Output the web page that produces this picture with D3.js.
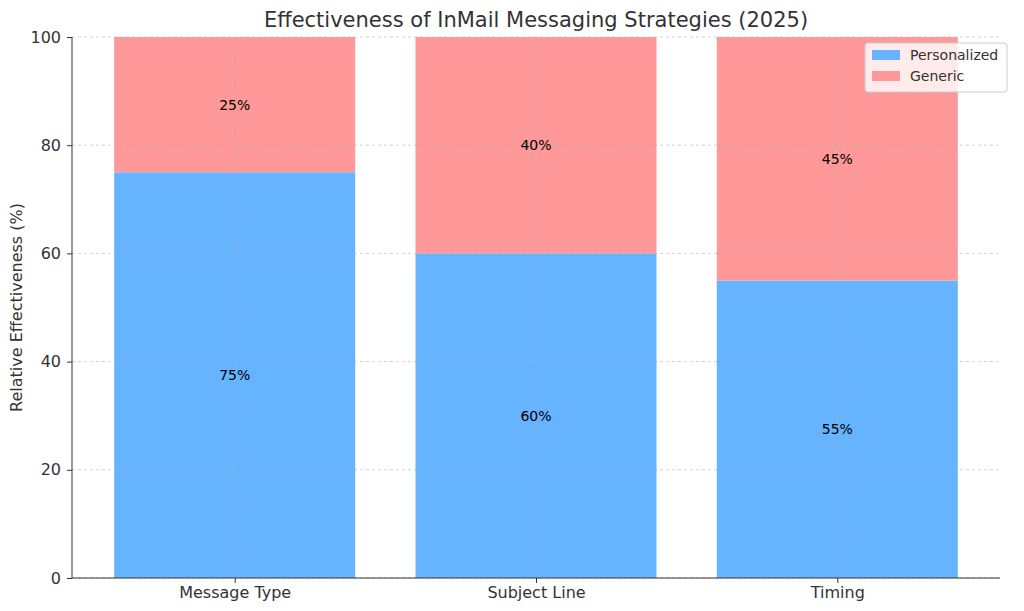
<!DOCTYPE html>
<html><head><meta charset="utf-8">
<script src="https://cdn.jsdelivr.net/npm/d3@7"></script>
<style>body{margin:0;background:#fff}text{font-family:"DejaVu Sans",sans-serif}</style>
</head><body>
<svg width="1024" height="611"></svg>
<script>
const categories = ['Message Type', 'Subject Line', 'Timing'];
const personalized = [75, 60, 55];
const generic = [25, 40, 45];
const yTicks = [0, 20, 40, 60, 80, 100];

const svg = d3.select('svg');
const plotLeft = 72, plotRight = 1000, plotTop = 37, plotBottom = 578;
const x = d3.scaleLinear().domain([-0.54, 2.54]).range([plotLeft, plotRight]);
const y = d3.scaleLinear().domain([0, 100]).range([plotBottom, plotTop]);
const bw = x(0.8) - x(0);

const data = categories.map((c, i) => ({c, i, p: personalized[i], g: generic[i]}));

const g = svg.append('g');
g.selectAll('rect.p').data(data).enter().append('rect')
  .attr('x', d => x(d.i) - bw / 2).attr('width', bw)
  .attr('y', d => y(d.p)).attr('height', d => y(0) - y(d.p))
  .attr('fill', '#66b3ff');
g.selectAll('rect.g').data(data).enter().append('rect')
  .attr('x', d => x(d.i) - bw / 2).attr('width', bw)
  .attr('y', d => y(d.p + d.g)).attr('height', d => y(d.p) - y(d.p + d.g))
  .attr('fill', '#ff9999');

// grid
const grid = svg.append('g').attr('stroke', '#b0b0b0').attr('stroke-width', 0.8)
  .attr('stroke-dasharray', '3,3').attr('opacity', 0.7);
yTicks.forEach(t => grid.append('line').attr('x1', plotLeft).attr('x2', plotRight).attr('y1', y(t)).attr('y2', y(t)));
data.forEach(d => grid.append('line').attr('x1', x(d.i)).attr('x2', x(d.i)).attr('y1', plotTop).attr('y2', plotBottom));

// value labels
data.forEach(d => {
  svg.append('text').attr('x', x(d.i)).attr('y', y(d.p / 2)).attr('text-anchor', 'middle')
    .attr('dy', '0.35em').attr('font-size', 14).text(d.p + '%');
  svg.append('text').attr('x', x(d.i)).attr('y', y(d.p + d.g / 2)).attr('text-anchor', 'middle')
    .attr('dy', '0.35em').attr('font-size', 14).text(d.g + '%');
});

// axes
const ya = svg.append('g').attr('transform', `translate(${plotLeft},0)`)
  .call(d3.axisLeft(y).tickValues(yTicks).tickSize(5).tickPadding(6));
ya.selectAll('text').attr('font-size', 16).attr('fill', '#333');
ya.select('.domain').attr('d', `M0,${plotTop}V${plotBottom}`);
const xa = svg.append('g').attr('transform', `translate(0,${plotBottom})`)
  .call(d3.axisBottom(x).tickValues([0, 1, 2]).tickFormat(i => categories[i]).tickSize(5).tickPadding(4));
xa.selectAll('text').attr('font-size', 16).attr('fill', '#333');
xa.select('.domain').attr('d', `M${plotLeft},0H${plotRight}`);
svg.selectAll('.tick line').attr('stroke', '#333');
svg.selectAll('.domain').attr('stroke', '#333');

svg.append('text').attr('x', (plotLeft + plotRight) / 2).attr('y', 27).attr('text-anchor', 'middle')
  .attr('font-size', 21).attr('fill', '#333').text('Effectiveness of InMail Messaging Strategies (2025)');
svg.append('text').attr('transform', `translate(22,${(plotTop + plotBottom) / 2}) rotate(-90)`)
  .attr('text-anchor', 'middle').attr('font-size', 16).attr('fill', '#333').text('Relative Effectiveness (%)');

// legend
const lg = svg.append('g').attr('transform', 'translate(865,43)');
lg.append('rect').attr('width', 142).attr('height', 49).attr('rx', 3).attr('fill', '#fff')
  .attr('fill-opacity', 0.8).attr('stroke', '#ccc');
[['Personalized', '#66b3ff'], ['Generic', '#ff9999']].forEach((s, i) => {
  lg.append('rect').attr('x', 7).attr('y', 7 + i * 21).attr('width', 28).attr('height', 10).attr('fill', s[1]);
  lg.append('text').attr('x', 45).attr('y', 17 + i * 21).attr('font-size', 14).attr('fill', '#333').text(s[0]);
});
</script>
</body></html>
